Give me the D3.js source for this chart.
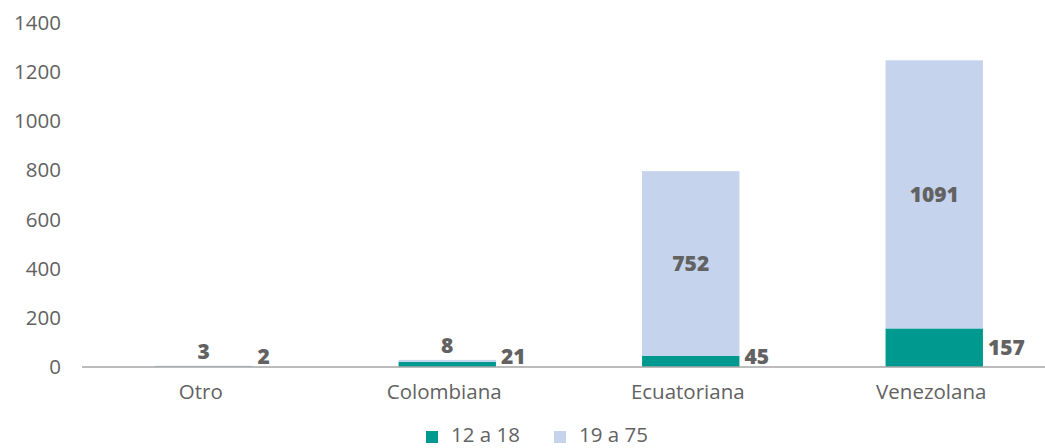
<!DOCTYPE html>
<html><head><meta charset="utf-8">
<script src="https://cdn.jsdelivr.net/npm/d3@7"></script>
<style>body{margin:0;background:#fff;} text{font-family:"Open Sans", sans-serif;}</style>
</head><body>
<svg id="c" width="1045" height="448"></svg>
<script>
const categories = ["Otro", "Colombiana", "Ecuatoriana", "Venezolana"];
const seriesNames = ["12 a 18", "19 a 75"];
const young = [2, 21, 45, 157];
const adult = [3, 8, 752, 1091];
const yTicks = [0, 200, 400, 600, 800, 1000, 1200, 1400];
const colors = ["#00998F", "#C5D3EC"];

const svg = d3.select("#c");
const x = d3.scaleBand().domain(categories).range([82, 1056]).paddingInner(0.6).paddingOuter(0.3);
const y = d3.scaleLinear().domain([0, 1400]).range([367, 23]);
const grey = "#626262";
const ff = "'Open Sans', sans-serif";

// y axis labels
const ya = svg.append("g").attr("transform", "translate(61,0)")
  .call(d3.axisLeft(y).tickValues(yTicks).tickFormat(d3.format("d")).tickSize(0).tickPadding(0));
ya.select(".domain").remove();
ya.selectAll("text").attr("font-size", 20.5).attr("fill", grey).attr("font-family", ff);

const data = categories.map((c, i) => ({c, a: young[i], b: adult[i]}));
const stack = d3.stack().keys(["a", "b"])(data);

const bw = x.bandwidth();
svg.append("g").selectAll("g").data(stack).join("g").attr("fill", (d, i) => colors[i])
  .selectAll("rect").data(d => d).join("rect")
  .attr("x", d => x(d.data.c)).attr("width", bw)
  .attr("y", d => y(d[1])).attr("height", d => y(d[0]) - y(d[1]));

// x axis
const xa = svg.append("g").attr("transform", "translate(0,367)")
  .call(d3.axisBottom(x).tickSize(0).tickPadding(17));
xa.select(".domain").attr("stroke", "#a6a6a6").attr("stroke-width", 1.5)
  .attr("d", "M82,0H1045");
xa.selectAll("text").attr("font-size", 20.5).attr("fill", grey).attr("font-family", ff)
  .attr("dx", -3);

// labels for 19 a 75 (centered)
svg.append("g").selectAll("text").data(stack[1]).join("text")
  .attr("x", d => x(d.data.c) + bw / 2)
  .attr("y", d => {
    const top = y(d[1]), bot = y(d[0]);
    return (bot - top) > 24 ? (top + bot) / 2 : top - 14;
  })
  .attr("dy", "0.35em").attr("text-anchor", "middle")
  .attr("font-size", 21).attr("font-weight", 800).attr("fill", grey)
  .text(d => d[1] - d[0]);

// labels for 12 a 18 (right side)
svg.append("g").selectAll("text").data(stack[0]).join("text")
  .attr("x", d => x(d.data.c) + bw + 5)
  .attr("y", d => Math.min((y(d[0]) + y(d[1])) / 2, 357))
  .attr("dy", "0.35em").attr("text-anchor", "start")
  .attr("font-size", 21).attr("font-weight", 800).attr("fill", grey)
  .text(d => d[1] - d[0]);

// legend
const legX = [426, 554];
const lg = svg.append("g").selectAll("g").data(seriesNames).join("g")
  .attr("transform", (d, i) => `translate(${legX[i]},435)`);
lg.append("rect").attr("x", 0).attr("y", -4).attr("width", 12).attr("height", 12).attr("fill", (d, i) => colors[i]);
lg.append("text").attr("x", 25).attr("dy", "0.35em").attr("font-size", 20.5).attr("fill", grey).text(d => d);
</script>
</body></html>
